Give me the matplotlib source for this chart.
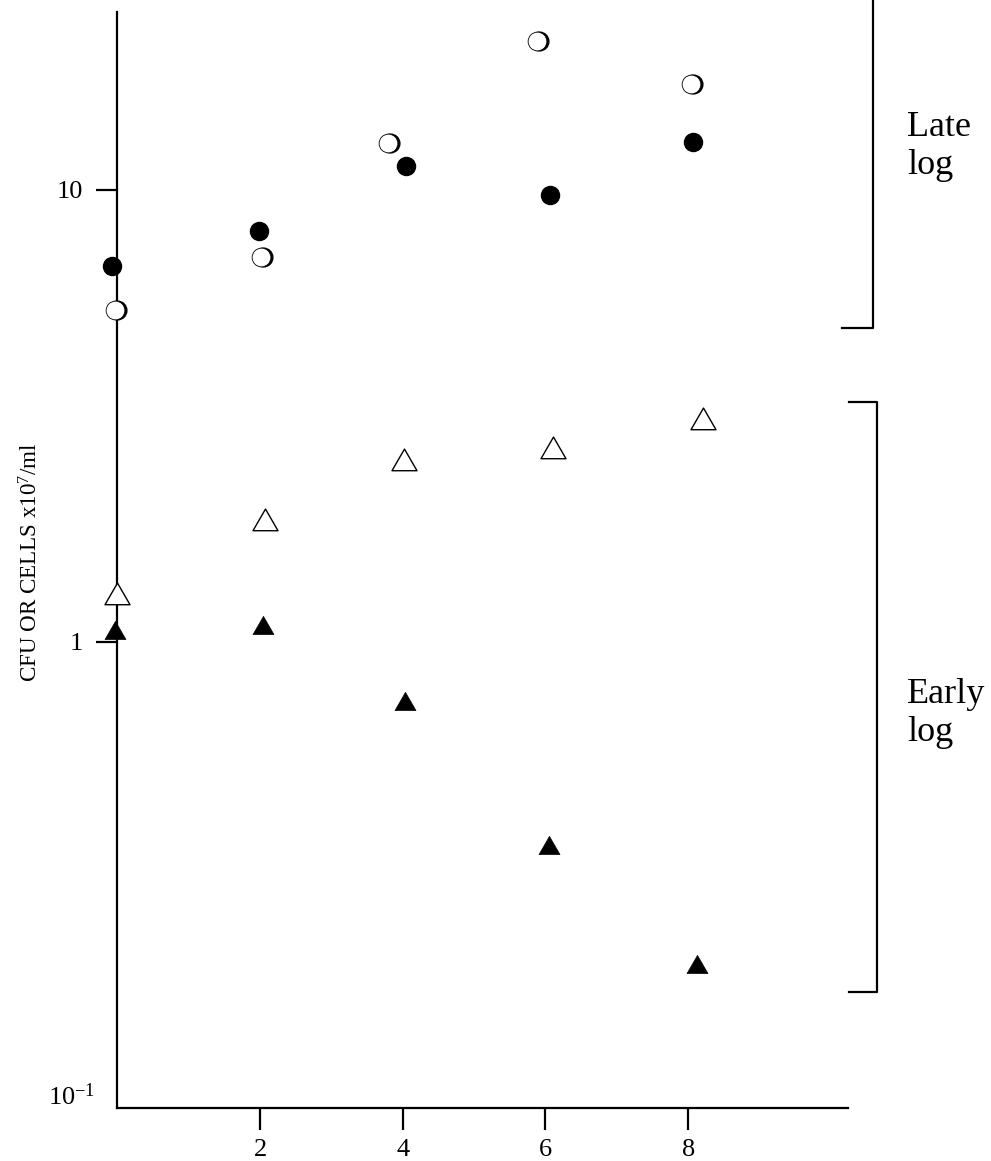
import matplotlib
matplotlib.use("Agg")
import matplotlib.pyplot as plt
from matplotlib.ticker import FixedLocator, FixedFormatter
from matplotlib.transforms import ScaledTranslation
from matplotlib.path import Path

plt.rcParams['font.family'] = ['Liberation Serif', 'DejaVu Serif']
plt.rcParams['mathtext.fontset'] = 'custom'
plt.rcParams['mathtext.rm'] = 'Liberation Serif'
plt.rcParams['mathtext.it'] = 'Liberation Serif:italic'

# data (x = time, y = CFU or cells x10^7/ml)
late_filled_x = [-0.07, 1.98, 4.04, 6.06, 8.07]
late_filled_y = [6.80, 8.13, 11.3, 9.73, 12.8]
late_open_x = [-0.03, 2.01, 3.79, 5.88, 8.04]
late_open_y = [5.43, 7.10, 12.7, 21.4, 17.2]
early_open_x = [-0.01, 2.07, 4.02, 6.11, 8.21]
early_open_y = [1.26, 1.83, 2.49, 2.64, 3.07]
early_filled_x = [-0.03, 2.04, 4.03, 6.05, 8.12]
early_filled_y = [1.047, 1.075, 0.729, 0.350, 0.191]

xticks = [2, 4, 6, 8]
yticks = [1, 10]
ylabel = 'CFU OR CELLS x10$^{7}$/ml'

fig = plt.figure(figsize=(9.91, 11.61), dpi=100)
ax = fig.add_axes([0.1184, 0.04565, 0.7373, 0.9440])
ax.set_yscale('log')
ax.set_xlim(0, 10.24)
ax.set_ylim(0.0931, 24.76)

for s in ['top', 'right']:
    ax.spines[s].set_visible(False)
for s in ['left', 'bottom']:
    ax.spines[s].set_linewidth(1.6)

ax.set_xticks(xticks)
ax.set_xticklabels([str(t) for t in xticks])
ax.set_yticks(yticks)
ax.set_yticklabels([str(t) for t in yticks])
ax.yaxis.set_minor_locator(FixedLocator([0.1]))
ax.yaxis.set_minor_formatter(FixedFormatter(['$10^{-1}$']))
ax.tick_params(axis='x', which='major', length=16, width=1.6, pad=6, labelsize=19)
ax.tick_params(axis='y', which='major', length=15, width=1.6, pad=10, labelsize=19)
ax.tick_params(axis='y', which='minor', length=0, pad=16, labelsize=19)
ax.xaxis.set_minor_locator(FixedLocator([]))

fig.text(0.031, 0.516, ylabel, rotation=90, ha='center', va='center', fontsize=16.6)

# equilateral triangle marker
tri = Path([(-0.5, -0.2887), (0.5, -0.2887), (0, 0.5774), (-0.5, -0.2887)],
           [Path.MOVETO, Path.LINETO, Path.LINETO, Path.CLOSEPOLY])

ax.plot(late_filled_x, late_filled_y, 'o', ms=13, color='black', mec='black',
        clip_on=False, zorder=4)
shift = ax.transData + ScaledTranslation(2.2 / 100, 0, fig.dpi_scale_trans)
ax.plot(late_open_x, late_open_y, 'o', ms=13.5, color='black', mec='black',
        transform=shift, clip_on=False, zorder=4)
ax.plot(late_open_x, late_open_y, 'o', ms=13.5, mfc='white', mec='black', mew=0.6,
        clip_on=False, zorder=5)
ax.plot(early_open_x, early_open_y, linestyle='none', marker=tri, ms=20.8, mfc='white',
        mec='black', mew=1.0, clip_on=False, zorder=4)
ax.plot(early_filled_x, early_filled_y, linestyle='none', marker=tri, ms=17.4, mfc='black',
        mec='black', mew=0.5, clip_on=False, zorder=4)

# brackets marking the two growth phases
ax.plot([10.15, 10.59, 10.59], [4.95, 4.95, 30], color='black', lw=1.6, clip_on=False)
ax.plot([10.26, 10.64, 10.64, 10.26], [3.40, 3.40, 0.168, 0.168], color='black', lw=1.6,
        clip_on=False)
ax.text(11.07, 12.5, 'Late\nlog', fontsize=26, ha='left', va='center', linespacing=1.2)
ax.text(11.07, 0.693, 'Early\nlog', fontsize=26, ha='left', va='center', linespacing=1.2)

fig.savefig('out.png', dpi=100)
